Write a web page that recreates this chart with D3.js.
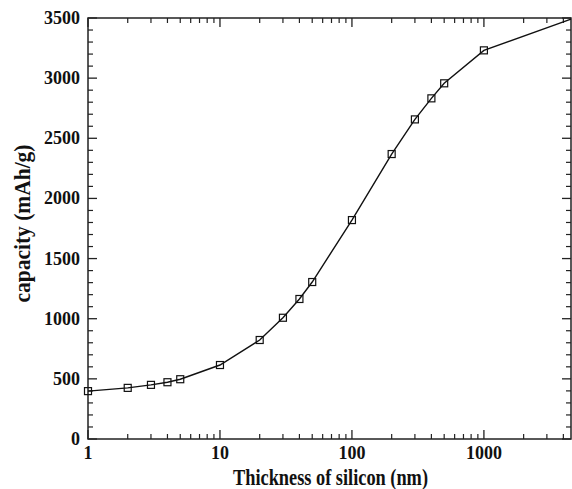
<!DOCTYPE html>
<html>
<head>
<meta charset="utf-8">
<script src="https://cdn.jsdelivr.net/npm/d3@7"></script>
<style>
  body { margin: 0; background: #fff; }
  text { font-family: "Liberation Serif", "Times New Roman", serif; font-weight: bold; fill: #111; }
</style>
</head>
<body>
<svg id="chart" width="572" height="489"></svg>
<script>
// thickness (nm) and capacity (mAh/g)
const thickness = [1, 2, 3, 4, 5, 10, 20, 30, 40, 50, 100, 200, 300, 400, 500, 1000];
const capacity = [398, 425, 450, 472, 497, 615, 823, 1008, 1164, 1305, 1820, 2369, 2657, 2832, 2957, 3231];
// the line runs on past the last marker to the right edge
const tailThickness = [4570];
const tailCapacity = [3490];

const xTickLabels = ["1", "10", "100", "1000"];
const yTickLabels = ["0", "500", "1000", "1500", "2000", "2500", "3000", "3500"];

const margin = { top: 18, right: 1, bottom: 50, left: 88 };
const width = 572 - margin.left - margin.right;
const height = 489 - margin.top - margin.bottom;

const svg = d3.select("#chart");
const g = svg.append("g")
  .attr("transform", "translate(" + margin.left + "," + margin.top + ")");

const x = d3.scaleLog().domain([1, tailThickness[0]]).range([0, width]);
const y = d3.scaleLinear().domain([0, 3500]).range([height, 0]);

// minor ticks for both axes
const xMinor = [];
for (let dec = 1; dec <= 1000; dec *= 10) {
  for (let k = 2; k <= 9; k++) {
    if (dec * k <= tailThickness[0]) xMinor.push(dec * k);
  }
}
const xMajor = xTickLabels.map(Number);
const yMajor = yTickLabels.map(Number);
const yMinor = d3.range(0, 3501, 100).filter((v) => v % 500 !== 0);

// frame
g.append("rect")
  .attr("width", width)
  .attr("height", height)
  .attr("fill", "none")
  .attr("stroke", "#222")
  .attr("stroke-width", 1.5);

// inward ticks on bottom and top
[height, 0].forEach((edge) => {
  const dir = edge === 0 ? 1 : -1;
  g.selectAll(null).data(xMajor).enter().append("line")
    .attr("x1", (d) => x(d)).attr("x2", (d) => x(d))
    .attr("y1", edge).attr("y2", edge + dir * 9)
    .attr("stroke", "#222").attr("stroke-width", 1.3);
  g.selectAll(null).data(xMinor).enter().append("line")
    .attr("x1", (d) => x(d)).attr("x2", (d) => x(d))
    .attr("y1", edge).attr("y2", edge + dir * 5)
    .attr("stroke", "#222").attr("stroke-width", 1.2);
});

// inward ticks on left and right
[0, width].forEach((edge) => {
  const dir = edge === 0 ? 1 : -1;
  g.selectAll(null).data(yMajor).enter().append("line")
    .attr("x1", edge).attr("x2", edge + dir * 9)
    .attr("y1", (d) => y(d)).attr("y2", (d) => y(d))
    .attr("stroke", "#222").attr("stroke-width", 1.3);
  g.selectAll(null).data(yMinor).enter().append("line")
    .attr("x1", edge).attr("x2", edge + dir * 5)
    .attr("y1", (d) => y(d)).attr("y2", (d) => y(d))
    .attr("stroke", "#222").attr("stroke-width", 1.2);
});

// tick labels
g.selectAll(null).data(xTickLabels).enter().append("text")
  .attr("x", (d) => x(+d))
  .attr("y", height + 20)
  .attr("text-anchor", "middle")
  .attr("font-size", 18)
  .text((d) => d);

g.selectAll(null).data(yTickLabels).enter().append("text")
  .attr("x", -8)
  .attr("y", (d) => y(+d) + 6)
  .attr("text-anchor", "end")
  .attr("font-size", 18)
  .text((d) => d);

// axis titles (the original lettering is tall and narrow)
g.append("text")
  .attr("x", width / 2 + 1)
  .attr("y", height + 46)
  .attr("text-anchor", "middle")
  .attr("font-size", 23)
  .attr("textLength", 195)
  .attr("lengthAdjust", "spacingAndGlyphs")
  .text("Thickness of silicon (nm)");

g.append("text")
  .attr("transform", "translate(" + (-58) + "," + (height / 2 - 5) + ") rotate(-90)")
  .attr("text-anchor", "middle")
  .attr("font-size", 23)
  .attr("textLength", 158)
  .attr("lengthAdjust", "spacingAndGlyphs")
  .text("capacity (mAh/g)");

// curve
const points = thickness.map((t, i) => ({ t: t, c: capacity[i] }));
const linePoints = points.concat(tailThickness.map((t, i) => ({ t: t, c: tailCapacity[i] })));

const line = d3.line()
  .x((d) => x(d.t))
  .y((d) => y(d.c));

g.append("path")
  .datum(linePoints)
  .attr("d", line)
  .attr("fill", "none")
  .attr("stroke", "#111")
  .attr("stroke-width", 1.4);

// open square markers
g.selectAll(".marker")
  .data(points)
  .enter()
  .append("rect")
  .attr("class", "marker")
  .attr("x", (d) => x(d.t) - 3.5)
  .attr("y", (d) => y(d.c) - 3.5)
  .attr("width", 7)
  .attr("height", 7)
  .attr("fill", "none")
  .attr("stroke", "#111")
  .attr("stroke-width", 1.2);
</script>
</body>
</html>
